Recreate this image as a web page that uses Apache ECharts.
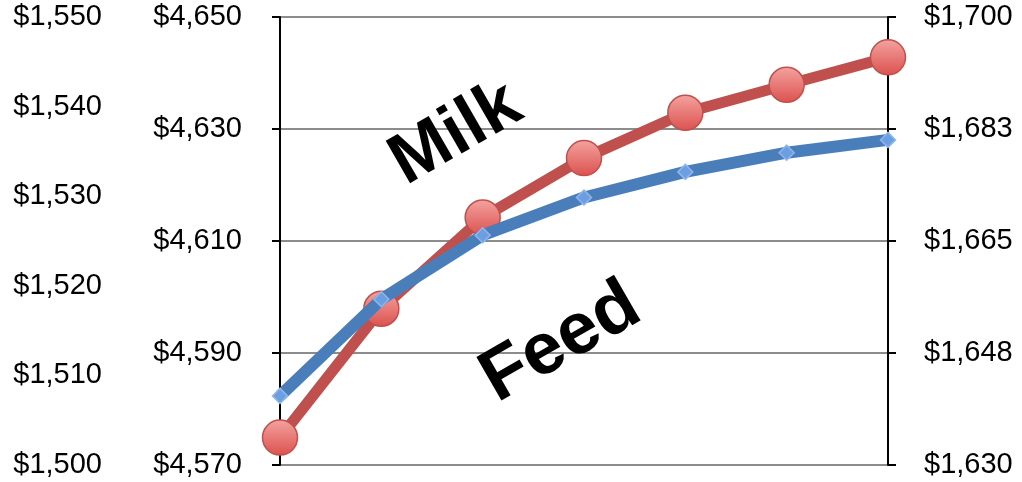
<!DOCTYPE html>
<html>
<head>
<meta charset="utf-8">
<script src="https://cdn.jsdelivr.net/npm/echarts@6/dist/echarts.min.js"></script>
<style>
  html, body { margin: 0; padding: 0; background: #ffffff; }
  #chart { width: 1022px; height: 482px; }
</style>
</head>
<body>
<div id="chart"></div>
<script>
// Seven periods along the horizontal axis (no labels shown)
const periods = ['1', '2', '3', '4', '5', '6', '7'];

// Milk income, read on the $4,570 – $4,650 axis
const milkValues = [4574.9, 4597.9, 4614.2, 4624.8, 4632.9, 4637.9, 4642.8];

// Feed cost, read on the $1,630 – $1,700 axis
const feedValues = [1640.8, 1655.9, 1665.9, 1671.8, 1675.8, 1678.8, 1680.8];

// Axis ranges
const milkAxis = { min: 4570, max: 4650, interval: 20 };
const feedAxis = { min: 1630, max: 1700, interval: 17.5 };
const outerAxis = { min: 1500, max: 1550, interval: 10 };

// Annotation text
const milkTitle = 'Milk';
const feedTitle = 'Feed';

const FONT = '"Liberation Sans", Arial, Helvetica, sans-serif';
const dollars = v => '$' + Math.round(v).toLocaleString('en-US');

const labelStyle = { color: '#000', fontSize: 29, fontFamily: FONT };

const chart = echarts.init(document.getElementById('chart'), null, { renderer: 'canvas' });

chart.setOption({
  animation: false,
  backgroundColor: '#ffffff',
  grid: { left: 280, right: 134, top: 17, bottom: 17, containLabel: false },
  xAxis: {
    type: 'category',
    data: periods,
    boundaryGap: false,
    axisLine: { show: false },
    axisTick: { show: false },
    axisLabel: { show: false },
    splitLine: { show: false }
  },
  yAxis: [
    {
      type: 'value',
      position: 'left',
      min: milkAxis.min, max: milkAxis.max, interval: milkAxis.interval,
      axisLine: { show: true, lineStyle: { color: '#000', width: 2 } },
      axisTick: { show: true, inside: false, length: 8, lineStyle: { color: '#000', width: 2 } },
      axisLabel: Object.assign({ margin: 38, formatter: dollars }, labelStyle),
      splitLine: { show: true, lineStyle: { color: '#8c8c8c', width: 2 } }
    },
    {
      type: 'value',
      position: 'right',
      min: feedAxis.min, max: feedAxis.max, interval: feedAxis.interval,
      axisLine: { show: true, lineStyle: { color: '#000', width: 2 } },
      axisTick: { show: true, inside: false, length: 8, lineStyle: { color: '#000', width: 2 } },
      axisLabel: Object.assign({ margin: 36, formatter: dollars }, labelStyle),
      splitLine: { show: false }
    },
    {
      type: 'value',
      position: 'left',
      offset: 170,
      min: outerAxis.min, max: outerAxis.max, interval: outerAxis.interval,
      axisLine: { show: false },
      axisTick: { show: false },
      axisLabel: Object.assign({ margin: 8, formatter: dollars }, labelStyle),
      splitLine: { show: false }
    }
  ],
  series: [
    {
      name: milkTitle,
      type: 'line',
      yAxisIndex: 0,
      data: milkValues,
      z: 2,
      lineStyle: { color: '#C0504D', width: 11 },
      symbol: 'circle',
      symbolSize: 35,
      itemStyle: {
        color: new echarts.graphic.LinearGradient(0, 0, 0, 1, [
          { offset: 0, color: '#F4A3A0' },
          { offset: 1, color: '#DB514E' }
        ]),
        borderColor: '#C0504D',
        borderWidth: 1.5
      }
    },
    {
      name: feedTitle,
      type: 'line',
      yAxisIndex: 1,
      data: feedValues,
      z: 3,
      lineStyle: { color: '#4A7EBB', width: 12 },
      symbol: 'diamond',
      symbolSize: 15,
      itemStyle: {
        color: '#6C9EE2',
        borderColor: '#8FB6EC',
        borderWidth: 1.5
      }
    }
  ],
  graphic: [
    {
      type: 'text',
      x: 456, y: 134,
      rotation: Math.PI / 6,
      z: 10,
      style: {
        text: milkTitle,
        font: 'bold 71px ' + FONT,
        fill: '#000',
        align: 'center',
        verticalAlign: 'middle'
      }
    },
    {
      type: 'text',
      x: 561, y: 343,
      rotation: Math.PI / 6,
      z: 10,
      style: {
        text: feedTitle,
        font: 'bold 73px ' + FONT,
        fill: '#000',
        align: 'center',
        verticalAlign: 'middle'
      }
    }
  ]
});
</script>
</body>
</html>
